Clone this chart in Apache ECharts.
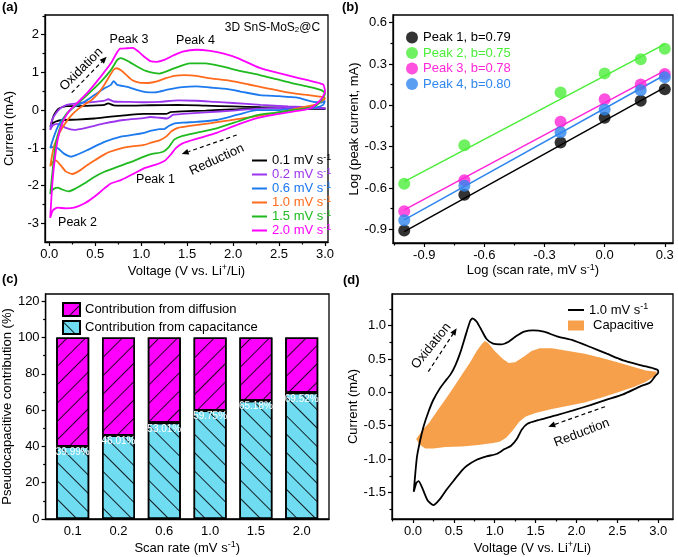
<!DOCTYPE html>
<html><head><meta charset="utf-8">
<script src="https://cdn.jsdelivr.net/npm/echarts@6/dist/echarts.min.js"></script>
<style>html,body{margin:0;padding:0;background:#fff}#c{width:678px;height:557px}</style>
</head><body><div id="c"></div>
<script>
// ---------- DATA ----------
// (a) cyclic voltammograms [voltage V, current mA]
const cv01 = [[0.01,-0.44],[0.03,-0.28],[0.05,-0.13],[0.1,0.04],[0.19,0.11],[0.3,0.11],[0.45,0.12],[0.6,0.14],[0.64,0.18],[0.7,0.13],[0.9,0.12],[1.1,0.13],[1.4,0.14],[1.7,0.12],[2.0,0.1],[2.3,0.08],[2.6,0.07],[2.9,0.06],[3.0,0.05],[3.0,0.03],[2.6,0.04],[2.3,0.05],[2.0,0.02],[1.7,-0.01],[1.45,-0.03],[1.32,-0.05],[1.27,-0.1],[1.2,-0.1],[1.03,-0.1],[0.85,-0.13],[0.67,-0.17],[0.49,-0.22],[0.3,-0.25],[0.15,-0.26],[0.07,-0.3],[0.02,-0.38],[0.01,-0.44]];
const cv02 = [[0.01,-0.52],[0.03,-0.26],[0.07,-0.09],[0.12,0.05],[0.19,0.14],[0.3,0.18],[0.49,0.22],[0.6,0.25],[0.64,0.29],[0.7,0.23],[0.85,0.22],[1.03,0.21],[1.2,0.22],[1.4,0.26],[1.6,0.25],[1.8,0.22],[2.0,0.19],[2.3,0.14],[2.6,0.1],[2.9,0.07],[3.0,0.06],[3.0,0.04],[2.8,0.05],[2.5,0.06],[2.26,0.04],[2.0,-0.01],[1.7,-0.06],[1.45,-0.1],[1.35,-0.12],[1.28,-0.22],[1.2,-0.2],[1.1,-0.18],[1.03,-0.21],[0.81,-0.26],[0.6,-0.35],[0.41,-0.46],[0.27,-0.52],[0.18,-0.47],[0.09,-0.36],[0.04,-0.4],[0.01,-0.52]];
const cv06 = [[0.01,-1.0],[0.05,-0.7],[0.1,-0.4],[0.18,-0.13],[0.27,0.09],[0.38,0.22],[0.49,0.4],[0.6,0.58],[0.67,0.67],[0.7,0.77],[0.74,0.67],[0.85,0.62],[0.96,0.53],[1.05,0.48],[1.15,0.47],[1.3,0.55],[1.45,0.61],[1.6,0.63],[1.75,0.6],[1.9,0.57],[2.07,0.5],[2.29,0.4],[2.5,0.37],[2.7,0.33],[2.84,0.24],[2.96,0.2],[3.0,0.25],[2.98,0.14],[2.9,0.07],[2.65,0.03],[2.45,0.0],[2.26,0.0],[2.05,-0.12],[1.82,-0.26],[1.6,-0.31],[1.45,-0.33],[1.35,-0.36],[1.3,-0.42],[1.25,-0.5],[1.2,-0.5],[1.1,-0.55],[1.03,-0.6],[0.92,-0.65],[0.78,-0.7],[0.6,-0.84],[0.41,-1.06],[0.3,-1.18],[0.24,-1.23],[0.16,-1.15],[0.1,-1.02],[0.06,-0.97],[0.03,-0.98],[0.01,-1.0]];
const cv10 = [[0.01,-1.49],[0.03,-1.2],[0.05,-0.96],[0.09,-0.71],[0.13,-0.51],[0.19,-0.29],[0.25,-0.11],[0.33,0.06],[0.39,0.16],[0.46,0.27],[0.52,0.41],[0.58,0.6],[0.64,0.84],[0.7,1.07],[0.73,1.11],[0.78,1.06],[0.84,0.93],[0.9,0.8],[0.98,0.73],[1.08,0.72],[1.17,0.76],[1.26,0.84],[1.36,0.91],[1.47,0.93],[1.6,0.91],[1.76,0.84],[1.96,0.78],[2.17,0.68],[2.37,0.58],[2.57,0.48],[2.78,0.41],[2.94,0.36],[2.99,0.34],[3.0,0.3],[2.96,0.24],[2.9,0.15],[2.78,0.09],[2.57,-0.03],[2.37,-0.11],[2.17,-0.19],[1.96,-0.27],[1.76,-0.34],[1.55,-0.41],[1.4,-0.47],[1.33,-0.56],[1.27,-0.7],[1.2,-0.8],[1.12,-0.85],[1.03,-0.92],[0.9,-0.96],[0.78,-1.01],[0.66,-1.1],[0.6,-1.17],[0.5,-1.32],[0.41,-1.46],[0.33,-1.6],[0.25,-1.69],[0.18,-1.62],[0.12,-1.45],[0.07,-1.33],[0.04,-1.36],[0.01,-1.49]];
const cv15 = [[0.01,-2.22],[0.04,-1.5],[0.07,-0.88],[0.12,-0.44],[0.19,-0.09],[0.29,0.14],[0.41,0.4],[0.56,0.75],[0.67,1.06],[0.74,1.33],[0.78,1.38],[0.87,1.28],[0.96,1.15],[1.05,1.04],[1.2,0.97],[1.35,1.1],[1.53,1.24],[1.7,1.24],[1.89,1.15],[2.07,1.04],[2.29,0.93],[2.47,0.82],[2.65,0.71],[2.82,0.62],[2.96,0.53],[3.0,0.45],[2.97,0.3],[2.9,0.12],[2.8,0.05],[2.65,0.0],[2.45,-0.07],[2.26,-0.13],[2.05,-0.3],[1.82,-0.48],[1.6,-0.6],[1.45,-0.68],[1.36,-0.78],[1.3,-0.98],[1.24,-1.1],[1.1,-1.17],[1.03,-1.23],[0.89,-1.37],[0.74,-1.5],[0.6,-1.63],[0.48,-1.78],[0.38,-1.94],[0.28,-2.08],[0.21,-2.15],[0.14,-2.1],[0.09,-2.05],[0.04,-2.1],[0.01,-2.22]];
const cv20 = [[0.01,-2.85],[0.03,-2.03],[0.05,-1.5],[0.09,-0.79],[0.14,-0.35],[0.21,-0.04],[0.3,0.18],[0.41,0.45],[0.56,0.89],[0.67,1.24],[0.73,1.5],[0.77,1.63],[0.85,1.64],[0.91,1.65],[0.97,1.55],[1.03,1.42],[1.1,1.3],[1.17,1.28],[1.25,1.33],[1.35,1.45],[1.45,1.55],[1.6,1.6],[1.75,1.57],[1.9,1.5],[2.05,1.38],[2.29,1.12],[2.5,0.98],[2.65,0.89],[2.8,0.8],[2.98,0.68],[3.0,0.5],[2.97,0.33],[2.91,0.17],[2.84,0.05],[2.65,-0.04],[2.45,-0.12],[2.26,-0.21],[2.05,-0.38],[1.82,-0.6],[1.6,-0.76],[1.45,-0.88],[1.38,-1.0],[1.32,-1.18],[1.26,-1.33],[1.15,-1.45],[1.03,-1.54],[0.92,-1.68],[0.78,-1.85],[0.67,-1.94],[0.6,-2.07],[0.49,-2.29],[0.38,-2.47],[0.27,-2.58],[0.18,-2.6],[0.09,-2.58],[0.04,-2.65],[0.01,-2.85]];
const scanRateLabels = ['0.1','0.2','0.6','1.0','1.5','2.0'];

// (b) log(peak current) vs log(scan rate)
const logScanRate = [-1.0,-0.70,-0.22,0.0,0.18,0.30];
const peak1 = [-0.91,-0.65,-0.27,-0.09,0.034,0.116];
const peak2 = [-0.57,-0.29,0.094,0.232,0.334,0.411];
const peak3 = [-0.77,-0.545,-0.12,0.044,0.152,0.227];
const peak4 = [-0.835,-0.585,-0.195,-0.03,0.109,0.203];
const fit1 = [[-1.0,-0.917],[0.3,0.13]];
const fit2 = [[-1.0,-0.554],[0.3,0.445]];
const fit3 = [[-1.0,-0.76],[0.3,0.252]];
const fit4 = [[-1.0,-0.832],[0.3,0.22]];
const peakNames = ['Peak 1, b=0.79','Peak 2, b=0.75','Peak 3, b=0.78','Peak 4, b=0.80'];

// (c) contributions (%)
const capacitance = [39.99,46.01,53.01,59.75,65.18,69.52];
const diffusion = [60.01,53.99,46.99,40.25,34.82,30.48];

// (d) capacitive region polygon at 1.0 mV/s [V, mA]
const capPoly = [[0.04,-0.70],[0.12,-0.56],[0.2,-0.45],[0.3,-0.27],[0.4,-0.1],[0.5,0.08],[0.6,0.27],[0.7,0.45],[0.78,0.62],[0.84,0.72],[0.88,0.77],[0.92,0.74],[1.0,0.62],[1.1,0.5],[1.17,0.44],[1.25,0.45],[1.35,0.53],[1.45,0.62],[1.55,0.66],[1.7,0.66],[1.9,0.62],[2.1,0.58],[2.3,0.52],[2.5,0.45],[2.7,0.38],[2.85,0.33],[2.98,0.31],[2.98,0.26],[2.85,0.16],[2.7,0.08],[2.5,0.0],[2.3,-0.08],[2.1,-0.15],[1.9,-0.2],[1.7,-0.25],[1.5,-0.31],[1.38,-0.36],[1.3,-0.44],[1.22,-0.57],[1.14,-0.68],[1.06,-0.74],[0.98,-0.76],[0.8,-0.79],[0.6,-0.81],[0.4,-0.82],[0.25,-0.84],[0.15,-0.84],[0.08,-0.78],[0.04,-0.70]];

// tick values
const aXTicks = [0,0.5,1.0,1.5,2.0,2.5,3.0], aXMinor = [0.25,0.75,1.25,1.75,2.25,2.75];
const aYTicks = [-3,-2,-1,0,1,2], aYMinor = [-2.5,-1.5,-0.5,0.5,1.5,2.5];
const bXTicks = [-0.9,-0.6,-0.3,0,0.3], bXMinor = [-1.05,-0.75,-0.45,-0.15,0.15];
const bYTicks = [-0.9,-0.6,-0.3,0,0.3,0.6], bYMinor = [-0.75,-0.45,-0.15,0.15,0.45];
const cYTicks = [0,20,40,60,80,100,120], cYMinor = [10,30,50,70,90,110];
const dXTicks = [0,0.5,1.0,1.5,2.0,2.5,3.0], dXMinor = [-0.25,0.25,0.75,1.25,1.75,2.25,2.75];
const dYTicks = [-1.5,-1.0,-0.5,0,0.5,1.0], dYMinor = [-1.75,-1.25,-0.75,-0.25,0.25,0.75,1.25];

// ---------- STYLE ----------
const FONT = "'Liberation Sans', Arial, Helvetica, sans-serif";
const C = {k:'#000000', purple:'#9b35ee', blue:'#1c79ee', orange:'#ff6a1c', green:'#1fba1f', magenta:'#ff00ff',
  bGreen:'#4cee3a', bMagenta:'#ff26d8', bBlue:'#2f86ee', cyan:'#70dcf2', cMag:'#ff00ff', cap:'#f6a04c'};
const rich = {
  t:{fontSize:13, fontFamily:FONT, color:'#000', lineHeight:16},
  s:{fontSize:9, fontFamily:FONT, color:'#000', verticalAlign:'top', lineHeight:9}
};
const legRich = {
  t:{fontSize:13, fontFamily:FONT, lineHeight:15},
  s:{fontSize:9, fontFamily:FONT, verticalAlign:'top', lineHeight:9}
};
const f1 = v => v.toFixed(1);
const f0 = v => String(Math.round(v));

const xAxes = [], yAxes = [];
function addAxes(list, dim, gi, min, max, majors, minors, fmt, name, gap, showLabels) {
  const pos = dim === 'x' ? 'bottom' : 'left';
  const show = showLabels !== false;
  list.push({
    type:'value', gridIndex:gi, min, max, position:pos, offset:0,
    axisLine:{show:true, onZero:false, lineStyle:{color:'#000', width:1.3}},
    axisTick:{show:show, inside:false, length:4, customValues:majors, lineStyle:{color:'#000', width:1.2}},
    axisLabel:{show:show, customValues:majors, formatter:fmt, color:'#000', fontSize:13, fontFamily:FONT, margin:6},
    splitLine:{show:false},
    name, nameLocation:'middle', nameGap:gap,
    nameTextStyle:{fontSize:13, fontFamily:FONT, color:'#000', rich}
  });
  const major = list.length - 1;
  if (minors) {
    list.push({
      type:'value', gridIndex:gi, min, max, position:pos, offset:0,
      axisLine:{show:false, onZero:false},
      axisTick:{show:true, inside:false, length:2.5, customValues:minors, lineStyle:{color:'#000', width:1.2}},
      axisLabel:{show:false}, splitLine:{show:false}
    });
  }
  return major;
}
const voltName = '{t|Voltage (V vs. Li}{s|+}{t|/Li)}';
const aX = addAxes(xAxes,'x',0,-0.047,3.033,aXTicks,aXMinor,f1,voltName,21);
const aY = addAxes(yAxes,'y',0,-3.49,2.52,aYTicks,aYMinor,f0,'Current (mA)',29);
const bX = addAxes(xAxes,'x',1,-1.056,0.341,bXTicks,bXMinor,f1,'{t|Log (scan rate, mV s}{s|-1}{t|)}',19);
const bY = addAxes(yAxes,'y',1,-1.0,0.656,bYTicks,bYMinor,f1,'Log (peak current, mA)',31);
addAxes(xAxes,'x',2,0,1,[0,1],null,f1,'',0,false);          // frame bottom line for (c)
addAxes(yAxes,'y',2,0,124,cYTicks,cYMinor,f0,'Pseudocapacitive contribution (%)',24);
const dX = addAxes(xAxes,'x',3,-0.256,3.18,dXTicks,dXMinor,f1,voltName,21);
const dY = addAxes(yAxes,'y',3,-1.898,1.475,dYTicks,dYMinor,f1,'Current (mA)',29);
// inner category axes for the bars of (c)
xAxes.push({type:'category', gridIndex:4, data:scanRateLabels, boundaryGap:true, position:'bottom',
  axisLine:{show:false}, axisTick:{show:false},
  axisLabel:{color:'#000', fontSize:13, fontFamily:FONT, margin:6},
  name:'{t|Scan rate (mV s}{s|-1}{t|)}', nameLocation:'middle', nameGap:21,
  nameTextStyle:{fontSize:13, fontFamily:FONT, color:'#000', rich}});
const cX = xAxes.length - 1;
yAxes.push({type:'value', gridIndex:4, min:0, max:124, show:false, splitLine:{show:false}});
const cY = yAxes.length - 1;

const grids = [
  {left:45, top:15, width:283, height:227},
  {left:393, top:15, width:280, height:228},
  {left:45, top:294, width:284, height:225},
  {left:392, top:294, width:281, height:225}
].map(g => Object.assign(g, {show:true, borderColor:'#000', borderWidth:1.3, backgroundColor:'transparent', containLabel:false}));
grids.push({left:49.8, top:294, width:274.8, height:225, show:false, containLabel:false});

// ---------- SERIES ----------
const series = [];
const cvSets = [['a01',cv01,C.k],['a02',cv02,C.purple],['a06',cv06,C.blue],['a10',cv10,C.orange],['a15',cv15,C.green],['a20',cv20,C.magenta]];
cvSets.forEach(([n,d,col]) => series.push({
  type:'line', name:n, xAxisIndex:aX, yAxisIndex:aY, data:d, symbol:'none', smooth:0.2,
  lineStyle:{color:col, width:1.8}, itemStyle:{color:col}, silent:true
}));
const fits = [fit1,fit2,fit3,fit4], peaks = [peak1,peak2,peak3,peak4], bCols = [C.k,C.bGreen,C.bMagenta,C.bBlue];
fits.forEach((f,i) => series.push({
  type:'line', name:'fit'+(i+1), xAxisIndex:bX, yAxisIndex:bY, data:f, symbol:'none',
  lineStyle:{color:bCols[i], width:1.5}, itemStyle:{color:bCols[i]}, silent:true, z:2
}));
peaks.forEach((p,i) => series.push({
  type:'scatter', name:peakNames[i], xAxisIndex:bX, yAxisIndex:bY,
  data:p.map((v,j) => [logScanRate[j], v]), symbolSize:12, itemStyle:{color:bCols[i]}, silent:true, z:3
}));
const decalCap = {symbol:'rect', symbolSize:1, dashArrayX:[1,0], dashArrayY:[1,12], rotation:Math.PI/4, color:'rgba(0,0,0,0.85)'};
const decalDiff = {symbol:'rect', symbolSize:1, dashArrayX:[1,0], dashArrayY:[1,12], rotation:-Math.PI/4, color:'rgba(0,0,0,0.85)'};
series.push({
  type:'bar', name:'Contribution from capacitance', xAxisIndex:cX, yAxisIndex:cY, stack:'c', barWidth:33,
  data:capacitance,
  itemStyle:{color:C.cyan, borderColor:'#000', borderWidth:1.5, decal:decalCap},
  label:{show:true, position:'insideTop', distance:0, color:'#fff', fontSize:10, fontFamily:FONT, lineHeight:12,
    formatter:p => p.value.toFixed(2) + '%'}, silent:true
});
series.push({
  type:'bar', name:'Contribution from diffusion', xAxisIndex:cX, yAxisIndex:cY, stack:'c', barWidth:33,
  data:diffusion,
  itemStyle:{color:C.cMag, borderColor:'#000', borderWidth:1.5, decal:decalDiff}, silent:true
});
series.push({
  type:'custom', name:'Capacitive', xAxisIndex:dX, yAxisIndex:dY, data:capPoly, encode:{x:0, y:1},
  itemStyle:{color:C.cap}, silent:true, z:1,
  renderItem:(params, api) => {
    if (params.dataIndex !== 0) return null;
    return {type:'polygon', shape:{points:capPoly.map(p => api.coord(p))}, style:{fill:C.cap}};
  }
});
series.push({
  type:'line', name:'d10', xAxisIndex:dX, yAxisIndex:dY, data:cv10, symbol:'none', smooth:0.2,
  lineStyle:{color:'#000', width:1.8}, itemStyle:{color:'#000'}, silent:true, z:3
});

// ---------- LEGENDS ----------
const rateOf = {a01:'0.1', a02:'0.2', a06:'0.6', a10:'1.0', a15:'1.5', a20:'2.0', d10:'1.0'};
const legends = [
  {left:247, top:148, orient:'vertical', itemWidth:15, itemHeight:2, itemGap:0, selectedMode:false, icon:'rect',
   data:cvSets.map(([n,,col]) => ({name:n, textStyle:{color:col}})),
   formatter:n => '{t|' + rateOf[n] + ' mV s}{s|-1}', textStyle:{fontSize:13, fontFamily:FONT, rich:legRich}},
  {left:401, top:25, orient:'vertical', itemWidth:12, itemHeight:12, itemGap:0.5, selectedMode:false, icon:'circle',
   data:peakNames.map((n,i) => ({name:n, textStyle:{color:bCols[i]}})),
   textStyle:{fontSize:13, fontFamily:FONT, lineHeight:15}},
  {left:57, top:297, orient:'vertical', itemWidth:17, itemHeight:13, itemGap:3, selectedMode:false, icon:'rect',
   data:['Contribution from diffusion','Contribution from capacitance'],
   textStyle:{fontSize:13, fontFamily:FONT, color:'#000', lineHeight:15}},
  {left:563, top:297.5, orient:'vertical', itemWidth:16, itemHeight:2, selectedMode:false, icon:'rect',
   data:['d10'], formatter:() => '{t|1.0 mV s}{s|-1}',
   textStyle:{fontSize:13, fontFamily:FONT, color:'#000', rich:legRich}},
  {left:563, top:313, orient:'vertical', itemWidth:16, itemHeight:10, selectedMode:false, icon:'rect',
   data:['Capacitive'], textStyle:{fontSize:13, fontFamily:FONT, color:'#000', lineHeight:15, padding:[0,0,0,4]}}
];

// ---------- ANNOTATIONS ----------
function txt(x, y, text, opts) {
  return Object.assign({type:'text', x, y, silent:true, style:Object.assign({text, fill:'#000', fontSize:13, fontFamily:FONT, align:'center', verticalAlign:'middle'}, (opts && opts.style) || {})}, (opts && opts.el) || {});
}
function arrow(x1, y1, x2, y2) {
  const dx = x2 - x1, dy = y2 - y1, L = Math.hypot(dx, dy), ux = dx / L, uy = dy / L;
  const hl = 7, hw = 3;
  const bx = x2 - ux * hl, by = y2 - uy * hl;
  return [
    {type:'line', silent:true, shape:{x1, y1, x2:bx, y2:by}, style:{stroke:'#000', lineWidth:1.2, lineDash:[4,3]}},
    {type:'polygon', silent:true, shape:{points:[[x2,y2],[bx - uy*hw, by + ux*hw],[bx + uy*hw, by - ux*hw]]}, style:{fill:'#000'}}
  ];
}
const bold = {style:{fontWeight:'bold', fontSize:13, align:'left', verticalAlign:'top'}};
const graphic = [
  txt(2, 1, '(a)', bold), txt(342, 1, '(b)', bold), txt(2, 273, '(c)', bold), txt(343, 274, '(d)', bold),
  txt(272.5, 27.5, '{n|3D SnS-MoS}{b|2}{n|@C}', {style:{rich:{n:{fontSize:12, fontFamily:FONT, fill:'#000'}, b:{fontSize:8, fontFamily:FONT, fill:'#000', verticalAlign:'bottom', lineHeight:10}}}}),
  txt(129, 40, 'Peak 3', {style:{fontSize:12.5}}), txt(195.5, 41, 'Peak 4', {style:{fontSize:12.5}}),
  txt(155.5, 180, 'Peak 1', {style:{fontSize:12.5}}), txt(77.5, 223, 'Peak 2', {style:{fontSize:12.5}}),
  txt(81.3, 69.3, 'Oxidation', {el:{rotation:45 * Math.PI / 180}}),
  txt(216.7, 159.7, 'Reduction', {el:{rotation:25 * Math.PI / 180}}),
  ...arrow(71.7, 92.7, 106.7, 56.7), ...arrow(236.7, 135, 181.7, 154),
  txt(490, 392.3, '59.75%', {style:{fontSize:13.5}}),
  txt(431.3, 346, 'Oxidation', {el:{rotation:51 * Math.PI / 180}}),
  txt(581.7, 432.8, 'Reduction', {el:{rotation:21 * Math.PI / 180}}),
  ...arrow(428.3, 371.7, 456.7, 328.3), ...arrow(605, 406.7, 548.3, 426.7)
];

const chart = echarts.init(document.getElementById('c'), null, {renderer:'canvas'});
chart.setOption({
  animation:false, backgroundColor:'#fff',
  textStyle:{fontFamily:FONT},
  grid:grids, xAxis:xAxes, yAxis:yAxes, series, legend:legends, graphic
});
</script></body></html>
